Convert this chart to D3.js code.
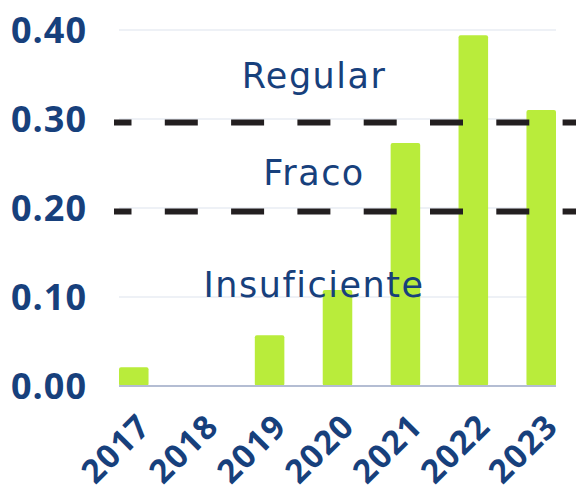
<!DOCTYPE html>
<html>
<head>
<meta charset="utf-8">
<script src="https://cdn.jsdelivr.net/npm/d3@7"></script>
<style>
  html, body { margin: 0; padding: 0; background: #ffffff; }
  svg { display: block; }
</style>
</head>
<body>
<svg id="chart" width="576" height="492"></svg>
<script>
// ---- data ----
const years = ["2017", "2018", "2019", "2020", "2021", "2022", "2023"];
const values = [0.021, 0, 0.057, 0.108, 0.273, 0.394, 0.31];
const yTicks = [0, 0.1, 0.2, 0.3, 0.4];
const thresholds = [0.3, 0.2];
const zoneLabels = ["Regular", "Fraco", "Insuficiente"];
const zoneLabelValues = [0.335, 0.226, 0.1];

// ---- layout ----
const W = 576, H = 492;
const plotLeft = 119, plotRight = 556, plotTop = 30, plotBottom = 386;
const textBlue = "#17407c";
const barColor = "#b9ec3b";

const svg = d3.select("#chart");

const x = d3.scaleBand().domain(years).range([plotLeft, plotRight]).paddingInner(0.565).paddingOuter(0);
const y = d3.scaleLinear().domain([0, 0.4]).range([plotBottom, plotTop]);

// gridlines
svg.append("g").selectAll("line")
  .data(yTicks.filter(d => d > 0))
  .join("line")
  .attr("x1", plotLeft).attr("x2", plotRight)
  .attr("y1", d => y(d)).attr("y2", d => y(d))
  .attr("stroke", "#dde3ee").attr("stroke-width", 1.2);

// y axis labels
const yAxis = d3.axisLeft(y).tickValues(yTicks).tickFormat(d3.format(".2f")).tickSize(0).tickPadding(0);
const gy = svg.append("g").attr("transform", `translate(87,0)`).call(yAxis);
gy.select(".domain").remove();
gy.selectAll("text")
  .attr("fill", textBlue)
  .attr("font-family", "'Open Sans', sans-serif")
  .attr("font-weight", 700)
  .attr("font-size", 36)
  .attr("letter-spacing", 1)
  .attr("dy", "0.36em");

// bars
svg.append("g").selectAll("rect")
  .data(years.map((d, i) => ({ year: d, value: values[i] })).filter(d => d.value > 0))
  .join("rect")
  .attr("x", d => x(d.year))
  .attr("y", d => y(d.value))
  .attr("width", x.bandwidth())
  .attr("height", d => y(0) - y(d.value))
  .attr("rx", 2)
  .attr("fill", barColor);

// baseline
svg.append("line")
  .attr("x1", plotLeft).attr("x2", plotRight)
  .attr("y1", y(0)).attr("y2", y(0))
  .attr("stroke", "#b4bdd3").attr("stroke-width", 1.8);

// x axis labels
const xAxis = d3.axisBottom(x).tickSize(0).tickPadding(0);
const gx = svg.append("g").attr("transform", `translate(0,${y(0)})`).call(xAxis);
gx.select(".domain").remove();
gx.selectAll("text")
  .attr("fill", textBlue)
  .attr("font-family", "'Open Sans', sans-serif")
  .attr("font-weight", 700)
  .attr("font-size", 33)
  .attr("letter-spacing", 1.5)
  .attr("text-anchor", "end")
  .attr("dy", 0)
  .attr("y", 0)
  .attr("transform", "translate(19,42) rotate(-45)");

// zone labels
svg.append("g").selectAll("text")
  .data(zoneLabels.map((d, i) => ({ label: d, v: zoneLabelValues[i] })))
  .join("text")
  .attr("x", 314)
  .attr("y", d => y(d.v))
  .attr("text-anchor", "middle")
  .attr("fill", textBlue)
  .attr("font-family", "'DejaVu Sans', sans-serif")
  .attr("font-size", 35)
  .attr("letter-spacing", 1.5)
  .text(d => d.label);

// threshold dashed lines (on top)
svg.append("g").selectAll("line")
  .data(thresholds)
  .join("line")
  .attr("x1", 114).attr("x2", W)
  .attr("y1", d => y(d) + 3.5).attr("y2", d => y(d) + 3.5)
  .attr("stroke", "#231f20")
  .attr("stroke-width", 6)
  .attr("stroke-dasharray", "33,33.3")
  .attr("stroke-dashoffset", 15.5);
</script>
</body>
</html>
